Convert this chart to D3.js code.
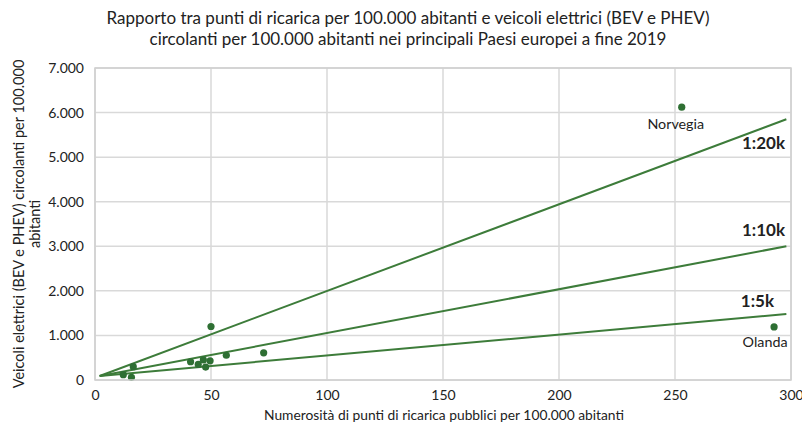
<!DOCTYPE html>
<html><head><meta charset="utf-8">
<script src="https://cdn.jsdelivr.net/npm/d3@7"></script>
<style>body{margin:0;background:#fff}svg{display:block}text{font-family:Lato,"Open Sans",sans-serif;fill:#222}</style>
</head><body><svg id="c" width="802" height="424"></svg>
<script>
const titleLines = ["Rapporto tra punti di ricarica per 100.000 abitanti e veicoli elettrici (BEV e PHEV)", "circolanti per 100.000 abitanti nei principali Paesi europei a fine 2019"];
const xTicks = [0, 50, 100, 150, 200, 250, 300];
const yTicks = [0, 1000, 2000, 3000, 4000, 5000, 6000, 7000];
const pointX = [50, 16.5, 12.2, 15.7, 41.2, 44.5, 46.7, 47.7, 49.6, 56.6, 72.7, 252.9, 292.7];
const pointY = [1200, 300, 120, 60, 410, 350, 450, 290, 430, 555, 610, 6120, 1190];
const pointLabels = ["", "", "", "", "", "", "", "", "", "", "", "Norvegia", "Olanda"];
const ratioNames = ["1:20k", "1:10k", "1:5k"];
const ratioStartX = [2, 2, 2];
const ratioStartY = [90, 90, 90];
const ratioEndX = [298, 298, 298];
const ratioEndY = [5850, 3000, 1480];

const svg = d3.select("#c");
const L = 95, R = 791, T = 68, B = 380;
const x = d3.scaleLinear().domain([0, 300]).range([L, R]);
const y = d3.scaleLinear().domain([0, 7000]).range([B, T]);
const fmt = d3.formatLocale({decimal: ",", thousands: ".", grouping: [3], currency: ["", "€"]}).format(",");

// grid
svg.append("g").selectAll("line.h").data(yTicks).join("line")
  .attr("x1", L).attr("x2", R).attr("y1", d => y(d)).attr("y2", d => y(d))
  .attr("stroke", "#d9d9d9").attr("stroke-width", 1.5);
svg.append("g").selectAll("line.v").data(xTicks).join("line")
  .attr("x1", d => x(d)).attr("x2", d => x(d)).attr("y1", T).attr("y2", B)
  .attr("stroke", "#d9d9d9").attr("stroke-width", 1.5);

// axes labels via d3 axes
const ax = svg.append("g").attr("transform", `translate(0,${B})`)
  .call(d3.axisBottom(x).tickValues(xTicks).tickFormat(d3.format("d")).tickSize(0).tickPadding(10));
ax.select(".domain").remove();
ax.selectAll("text").attr("font-size", 14).attr("fill", "#222").attr("font-family", "Lato");
const ay = svg.append("g").attr("transform", `translate(${L},0)`)
  .call(d3.axisLeft(y).tickValues(yTicks).tickFormat(d => fmt(d)).tickSize(0).tickPadding(11));
ay.select(".domain").remove();
ay.selectAll("text").attr("font-size", 14).attr("fill", "#222").attr("font-family", "Lato");

// ratio lines
const lineColor = "#3d7c3a";
ratioNames.forEach((n, i) => {
  svg.append("line")
    .attr("x1", x(ratioStartX[i])).attr("y1", y(ratioStartY[i]))
    .attr("x2", x(ratioEndX[i])).attr("y2", y(ratioEndY[i]))
    .attr("stroke", lineColor).attr("stroke-width", 2);
});
const ratioLabelPos = [[785, 149], [785, 236], [774, 307]];
svg.append("g").selectAll("text").data(ratioNames).join("text")
  .attr("x", (d, i) => ratioLabelPos[i][0]).attr("y", (d, i) => ratioLabelPos[i][1])
  .attr("text-anchor", "end").attr("font-size", 17).attr("font-weight", "bold").text(d => d);

// points
svg.append("g").selectAll("circle").data(pointX).join("circle")
  .attr("cx", d => x(d)).attr("cy", (d, i) => y(pointY[i])).attr("r", 3.6)
  .attr("fill", "#2e6f33");
const labelOffset = [[0,0],[0,0],[0,0],[0,0],[0,0],[0,0],[0,0],[0,0],[0,0],[0,0],[0,0],[-6,22],[-9,20]];
svg.append("g").selectAll("text").data(pointLabels).join("text")
  .attr("x", (d, i) => x(pointX[i]) + labelOffset[i][0]).attr("y", (d, i) => y(pointY[i]) + labelOffset[i][1])
  .attr("text-anchor", "middle").attr("font-size", 14.3).text(d => d);

// plot border
svg.append("rect").attr("x", L).attr("y", T).attr("width", R - L).attr("height", B - T)
  .attr("fill", "none").attr("stroke", "#d0d0d0").attr("stroke-width", 1.5);

// title
svg.append("g").selectAll("text").data(titleLines).join("text")
  .attr("x", 408).attr("y", (d, i) => 24 + i * 21).attr("text-anchor", "middle")
  .attr("font-size", 17).text(d => d);

// axis titles
svg.append("text").attr("x", 444).attr("y", 420).attr("text-anchor", "middle")
  .attr("font-size", 13.8).text("Numerosità di punti di ricarica pubblici per 100.000 abitanti");
const yt = svg.append("text").attr("transform", `translate(24,${(T + B) / 2}) rotate(-90)`)
  .attr("text-anchor", "middle").attr("font-size", 14.5);
yt.append("tspan").attr("x", 0).attr("dy", 0).text("Veicoli elettrici (BEV e PHEV) circolanti per 100.000");
yt.append("tspan").attr("x", 0).attr("dy", 16).text("abitanti");
</script></body></html>
